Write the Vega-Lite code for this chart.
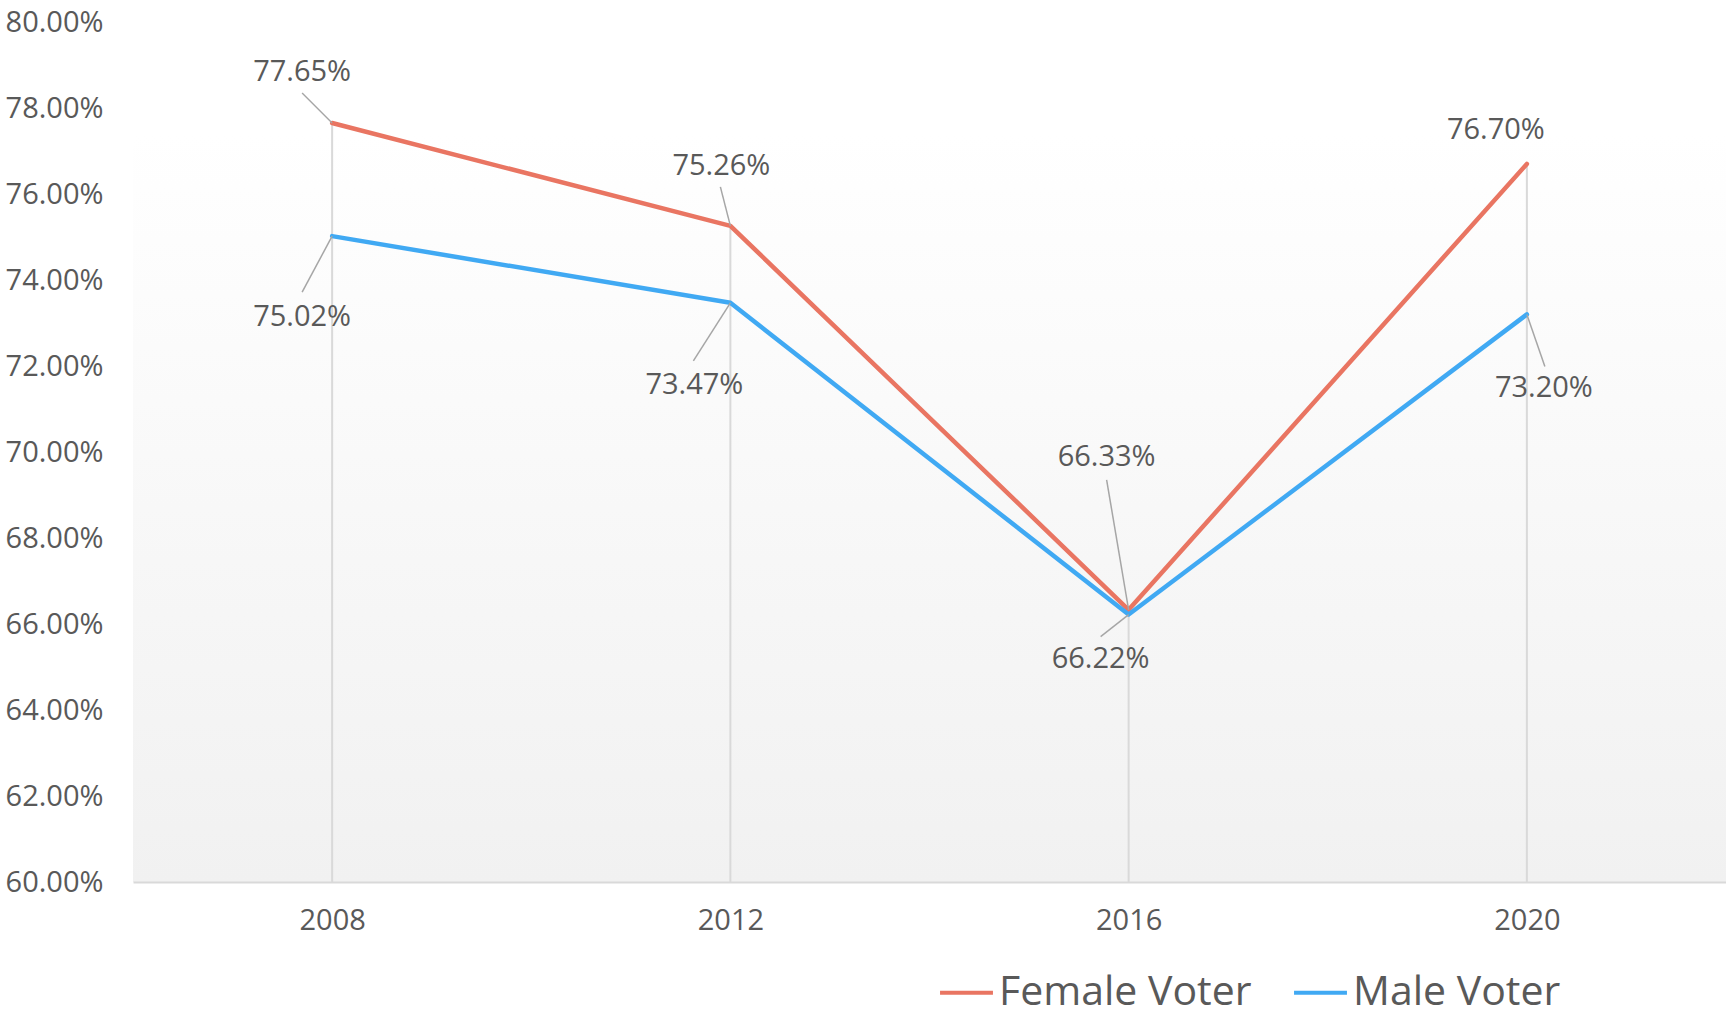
{
  "$schema": "https://vega.github.io/schema/vega-lite/v6.json",
  "width": 1593,
  "height": 860,
  "autosize": "none",
  "padding": {"left": 133, "top": 22, "right": 0, "bottom": 134},
  "background": "#ffffff",
  "config": {
    "view": {"stroke": null},
    "font": "Open Sans",
    "axis": {"labelFont": "Open Sans", "labelColor": "#595959", "labelFontSize": 29, "title": null},
    "legend": {"labelFont": "Open Sans"}
  },
  "data": {
    "values": [
      {"year": "2008", "series": "Female Voter", "value": 0.7765},
      {"year": "2012", "series": "Female Voter", "value": 0.7526},
      {"year": "2016", "series": "Female Voter", "value": 0.6633},
      {"year": "2020", "series": "Female Voter", "value": 0.767},
      {"year": "2008", "series": "Male Voter", "value": 0.7502},
      {"year": "2012", "series": "Male Voter", "value": 0.7347},
      {"year": "2016", "series": "Male Voter", "value": 0.6622},
      {"year": "2020", "series": "Male Voter", "value": 0.732}
    ]
  },
  "encoding": {
    "x": {
      "field": "year", "type": "ordinal",
      "scale": {"type": "point", "padding": 0.5},
      "axis": {"labelAngle": 0, "grid": false, "ticks": false, "tickSize": 0, "labelPadding": 24, "domainColor": "#d9d9d9", "domainWidth": 2, "zindex": 1}
    },
    "y": {
      "field": "value", "type": "quantitative",
      "scale": {"domain": [0.6, 0.8], "nice": false, "zero": false},
      "axis": {"values": [0.6, 0.62, 0.64, 0.66, 0.68, 0.7, 0.72, 0.74, 0.76, 0.78, 0.8], "format": ".2%", "domain": false, "ticks": false, "tickSize": 0, "grid": false, "labelPadding": 30}
    }
  },
  "layer": [
    {
      "data": {"values": [{"bg": 1}]},
      "mark": {
        "type": "rect",
        "fill": {"gradient": "linear", "x1": 0, "y1": 0, "x2": 0, "y2": 1,
          "stops": [{"offset": 0, "color": "#ffffff"}, {"offset": 0.13, "color": "#ffffff"}, {"offset": 1, "color": "#f1f1f1"}]}
      },
      "encoding": {"x": null, "y": null}
    },
    {
      "transform": [{"filter": "datum.series == 'Female Voter'"}],
      "mark": {"type": "rule", "color": "#d9d9d9", "strokeWidth": 2},
      "encoding": {"y2": {"datum": 0.6}}
    },
    {
      "mark": {"type": "line", "strokeWidth": 4.5, "strokeCap": "round", "strokeJoin": "round"},
      "encoding": {
        "color": {
          "field": "series", "type": "nominal",
          "scale": {"domain": ["Female Voter", "Male Voter"], "range": ["#e97562", "#40a9f3"]},
          "legend": {
            "title": null, "orient": "none", "direction": "horizontal",
            "legendX": 805, "legendY": 942,
            "symbolType": "stroke", "symbolStrokeWidth": 4, "symbolSize": 2800,
            "labelFontSize": 41, "labelColor": "#595959", "labelOffset": 4, "columnPadding": 34,
            "labelLimit": 400
          }
        }
      }
    },
    {"transform": [{"filter": "datum.series == 'Female Voter' && datum.year == '2008'"}], "mark": {"type": "rule", "color": "#a6a6a6", "strokeWidth": 1.5, "x2Offset": -30, "y2Offset": -30}, "encoding": {"x2": {"field": "year"}, "y2": {"field": "value"}}},
    {"transform": [{"filter": "datum.series == 'Male Voter' && datum.year == '2008'"}], "mark": {"type": "rule", "color": "#a6a6a6", "strokeWidth": 1.5, "x2Offset": -30, "y2Offset": 56}, "encoding": {"x2": {"field": "year"}, "y2": {"field": "value"}}},
    {"transform": [{"filter": "datum.series == 'Female Voter' && datum.year == '2012'"}], "mark": {"type": "rule", "color": "#a6a6a6", "strokeWidth": 1.5, "x2Offset": -10, "y2Offset": -39}, "encoding": {"x2": {"field": "year"}, "y2": {"field": "value"}}},
    {"transform": [{"filter": "datum.series == 'Male Voter' && datum.year == '2012'"}], "mark": {"type": "rule", "color": "#a6a6a6", "strokeWidth": 1.5, "x2Offset": -37, "y2Offset": 58}, "encoding": {"x2": {"field": "year"}, "y2": {"field": "value"}}},
    {"transform": [{"filter": "datum.series == 'Female Voter' && datum.year == '2016'"}], "mark": {"type": "rule", "color": "#a6a6a6", "strokeWidth": 1.5, "x2Offset": -22, "y2Offset": -130}, "encoding": {"x2": {"field": "year"}, "y2": {"field": "value"}}},
    {"transform": [{"filter": "datum.series == 'Male Voter' && datum.year == '2016'"}], "mark": {"type": "rule", "color": "#a6a6a6", "strokeWidth": 1.5, "x2Offset": -28, "y2Offset": 22}, "encoding": {"x2": {"field": "year"}, "y2": {"field": "value"}}},
    {"transform": [{"filter": "datum.series == 'Male Voter' && datum.year == '2020'"}], "mark": {"type": "rule", "color": "#a6a6a6", "strokeWidth": 1.5, "x2Offset": 18, "y2Offset": 52}, "encoding": {"x2": {"field": "year"}, "y2": {"field": "value"}}},
    {"transform": [{"filter": "datum.series == 'Female Voter' && datum.year == '2008'"}], "mark": {"type": "text", "fontSize": 29, "color": "#595959", "baseline": "middle", "align": "center", "dx": -30, "dy": -51}, "encoding": {"text": {"field": "value", "format": ".2%"}}},
    {"transform": [{"filter": "datum.series == 'Male Voter' && datum.year == '2008'"}], "mark": {"type": "text", "fontSize": 29, "color": "#595959", "baseline": "middle", "align": "center", "dx": -30, "dy": 81}, "encoding": {"text": {"field": "value", "format": ".2%"}}},
    {"transform": [{"filter": "datum.series == 'Female Voter' && datum.year == '2012'"}], "mark": {"type": "text", "fontSize": 29, "color": "#595959", "baseline": "middle", "align": "center", "dx": -9, "dy": -60}, "encoding": {"text": {"field": "value", "format": ".2%"}}},
    {"transform": [{"filter": "datum.series == 'Male Voter' && datum.year == '2012'"}], "mark": {"type": "text", "fontSize": 29, "color": "#595959", "baseline": "middle", "align": "center", "dx": -36, "dy": 82}, "encoding": {"text": {"field": "value", "format": ".2%"}}},
    {"transform": [{"filter": "datum.series == 'Female Voter' && datum.year == '2016'"}], "mark": {"type": "text", "fontSize": 29, "color": "#595959", "baseline": "middle", "align": "center", "dx": -22, "dy": -153}, "encoding": {"text": {"field": "value", "format": ".2%"}}},
    {"transform": [{"filter": "datum.series == 'Male Voter' && datum.year == '2016'"}], "mark": {"type": "text", "fontSize": 29, "color": "#595959", "baseline": "middle", "align": "center", "dx": -28, "dy": 44}, "encoding": {"text": {"field": "value", "format": ".2%"}}},
    {"transform": [{"filter": "datum.series == 'Female Voter' && datum.year == '2020'"}], "mark": {"type": "text", "fontSize": 29, "color": "#595959", "baseline": "middle", "align": "center", "dx": -31, "dy": -34}, "encoding": {"text": {"field": "value", "format": ".2%"}}},
    {"transform": [{"filter": "datum.series == 'Male Voter' && datum.year == '2020'"}], "mark": {"type": "text", "fontSize": 29, "color": "#595959", "baseline": "middle", "align": "center", "dx": 17, "dy": 74}, "encoding": {"text": {"field": "value", "format": ".2%"}}}
  ]
}
